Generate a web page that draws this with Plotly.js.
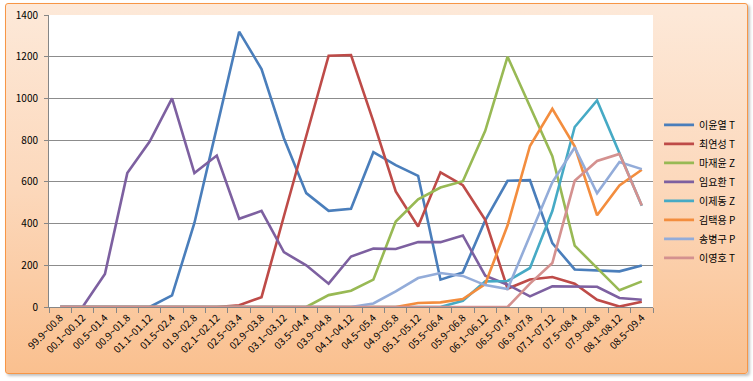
<!DOCTYPE html>
<html>
<head>
<meta charset="utf-8">
<script src="https://cdn.plot.ly/plotly-3.0.1.min.js"></script>
<style>
  html, body { margin: 0; padding: 0; background: #ffffff; }
  #frame {
    position: absolute; left: 5px; top: 3px; width: 741px; height: 369px;
    border: 1.5px solid #f79646; border-radius: 3px;
    background: linear-gradient(to bottom, #fde9d9 0%, #fcd8bb 50%, #fac08f 100%);
    box-shadow: 2px 2px 3px rgba(0,0,0,0.25);
  }
  #chart { position: absolute; left: 0; top: 0; width: 753px; height: 381px; }
</style>
</head>
<body>
<div id="frame"></div>
<div id="chart"></div>
<script>
const categories = ["99.9~00.8","00.1~00.12","00.5~01.4","00.9~01.8","01.1~01.12","01.5~02.4","01.9~02.8","02.1~02.12","02.5~03.4","02.9~03.8","03.1~03.12","03.5~04.4","03.9~04.8","04.1~04.12","04.5~05.4","04.9~05.8","05.1~05.12","05.5~06.4","05.9~06.8","06.1~06.12","06.5~07.4","06.9~07.8","07.1~07.12","07.5~08.4","07.9~08.8","08.1~08.12","08.5~09.4"];

const seriesNames = ["이윤열 T","최연성 T","마재윤 Z","임요환 T","이제동 Z","김택용 P","송병구 P","이영호 T"];

const leeYoonYeol = [0,0,0,0,0,56,403,860,1320,1141,809,546,461,471,742,680,629,131,166,415,605,608,306,180,176,171,199];
const choiYeonSung = [0,0,0,0,0,0,0,0,8,47,435,818,1205,1208,890,554,386,646,584,418,88,132,144,112,35,2,25];
const maJaeYoon = [0,0,0,0,0,0,0,0,0,0,0,0,57,78,131,410,516,573,603,845,1200,960,723,294,187,80,123];
const limYoHwan = [0,0,158,642,793,1000,642,726,423,461,263,200,112,242,280,278,311,311,343,150,107,51,99,99,97,43,35];
const leeJaeDong = [0,0,0,0,0,0,0,0,0,0,0,0,0,0,0,0,0,0,30,123,125,187,460,863,990,734,485];
const kimTaekYong = [0,0,0,0,0,0,0,0,0,0,0,0,0,0,0,0,19,22,38,110,392,772,950,770,440,583,658];
const songByungGu = [0,0,0,0,0,0,0,0,0,0,0,0,0,0,17,75,139,163,149,105,86,345,598,765,545,695,661];
const leeYoungHo = [0,0,0,0,0,0,0,0,0,0,0,0,0,0,0,0,0,0,0,0,0,112,211,605,700,734,487];

const seriesValues = [leeYoonYeol, choiYeonSung, maJaeYoon, limYoHwan, leeJaeDong, kimTaekYong, songByungGu, leeYoungHo];
const seriesColors = ["#4a7ebb","#be4b48","#98b954","#7d60a0","#46aac5","#f38d3e","#93acd9","#d4918f"];

const traces = seriesValues.map((vals, i) => ({
  type: "scatter",
  mode: "lines",
  x: categories,
  y: vals,
  name: seriesNames[i],
  line: { color: seriesColors[i], width: 2.6 },
  hoverinfo: "skip"
}));

const fontFam = "'Noto Sans CJK KR', 'Noto Sans', sans-serif";

const layout = {
  width: 753, height: 381,
  margin: { l: 49, r: 97, t: 15, b: 74, pad: 0 },
  paper_bgcolor: "rgba(0,0,0,0)",
  plot_bgcolor: "#ffffff",
  showlegend: true,
  font: { family: fontFam, size: 10, color: "#000000" },
  xaxis: {
    type: "category",
    tickangle: -45,
    ticks: "outside",
    tickson: "boundaries",
    ticklen: 5,
    tickcolor: "#868686",
    showline: true,
    linecolor: "#868686",
    linewidth: 1,
    showgrid: false,
    zeroline: false,
    tickfont: { family: fontFam, size: 10, color: "#000000" },
    range: [-0.5, 26.5]
  },
  yaxis: {
    range: [0, 1400],
    dtick: 200,
    ticks: "outside",
    ticklen: 4,
    tickcolor: "#868686",
    showline: true,
    linecolor: "#868686",
    linewidth: 1,
    showgrid: true,
    gridcolor: "#8c8c8c",
    gridwidth: 1,
    zeroline: false,
    tickfont: { family: fontFam, size: 10, color: "#000000" },
    ticklabelstandoff: 4
  },
  legend: {
    x: 1.01, xanchor: "left", xref: "paper",
    y: 0.396, yanchor: "middle",
    bgcolor: "rgba(0,0,0,0)",
    borderwidth: 0,
    font: { family: fontFam, size: 10, color: "#000000" },
    itemwidth: 30,
    tracegroupgap: 0
  }
};

Plotly.newPlot("chart", traces, layout, { displayModeBar: false, staticPlot: true });
</script>
</body>
</html>
